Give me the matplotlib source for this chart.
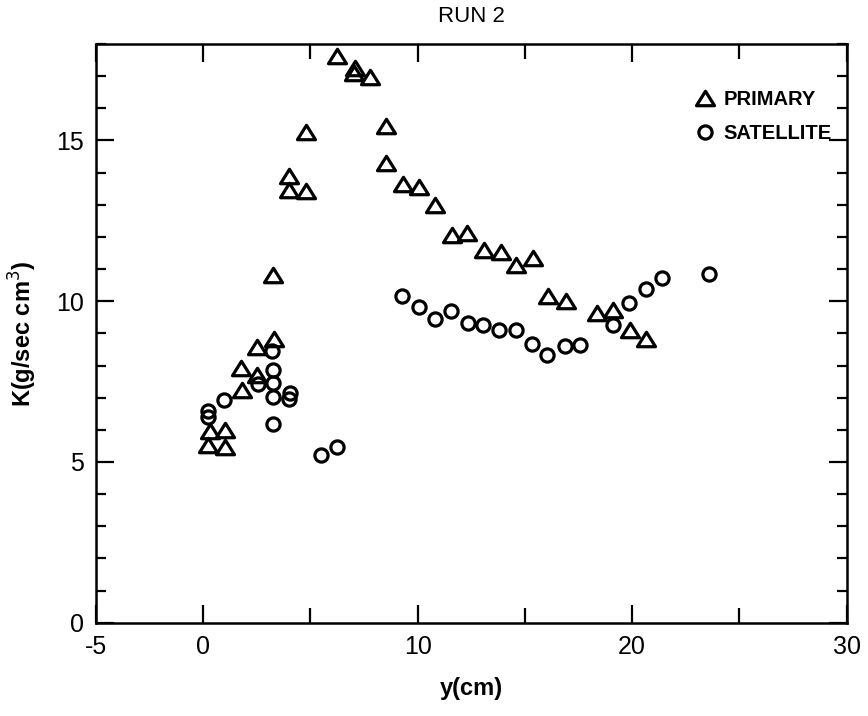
import matplotlib.pyplot as plt
import numpy as np
from matplotlib.path import Path
from matplotlib.ticker import MultipleLocator

# primary (triangles)
prim_y = [0.24, 0.31, 1.01, 1.01, 1.79, 1.76, 2.49, 2.49, 3.30, 3.27,
          4.01, 4.01, 4.79, 4.79, 6.25, 7.07, 7.02, 7.77, 8.52, 8.52,
          9.33, 10.07, 10.80, 11.58, 12.31, 13.09, 13.87, 14.58, 15.39, 16.09,
          16.90, 18.38, 19.12, 19.90, 20.64]
prim_k = [5.54, 5.95, 5.98, 5.46, 7.25, 7.93, 7.72, 8.58, 8.84, 10.83,
          13.89, 13.46, 13.43, 15.25, 17.63, 17.27, 17.11, 16.99, 15.45, 14.31,
          13.64, 13.56, 12.98, 12.05, 12.11, 11.59, 11.53, 11.14, 11.35, 10.16,
          10.00, 9.64, 9.72, 9.12, 8.81]

# satellite (circles)
sat_y = [0.24, 0.24, 0.98, 2.57, 3.22, 3.24, 3.27, 3.27, 3.27, 4.04,
         3.98, 5.49, 6.25, 9.28, 10.07, 10.80, 11.55, 12.33, 13.06, 13.80,
         14.56, 15.35, 16.05, 16.86, 17.59, 19.12, 19.85, 20.63, 21.40, 23.59]
sat_k = [6.57, 6.40, 6.92, 7.44, 8.44, 7.87, 7.46, 7.02, 6.18, 7.13,
         6.95, 5.22, 5.48, 10.16, 9.83, 9.45, 9.71, 9.33, 9.25, 9.10,
         9.09, 8.68, 8.34, 8.60, 8.65, 9.27, 9.95, 10.37, 10.73, 10.86]

plt.rcParams['font.family'] = ['Liberation Sans', 'DejaVu Sans']
plt.rcParams['axes.unicode_minus'] = False

# flattened triangle like the hand drawn one
tri = Path([(0, 0.8), (-1, -0.8), (1, -0.8), (0, 0.8)],
           [Path.MOVETO, Path.LINETO, Path.LINETO, Path.CLOSEPOLY])

fig = plt.figure(figsize=(8.68, 7.16), dpi=100)
ax = fig.add_axes([0.1106, 0.1303, 0.8648, 0.8082])

ax.plot(prim_y, prim_k, linestyle='none', marker=tri, ms=13, mfc='none',
        mec='black', mew=2.3, label='PRIMARY')
ax.plot(sat_y, sat_k, linestyle='none', marker='o', ms=9.5, mfc='none',
        mec='black', mew=2.3, label='SATELLITE')

ax.set_xlim(-5, 30)
ax.set_ylim(0, 18)
ax.set_xticks([-5, 0, 10, 20, 30])
ax.xaxis.set_minor_locator(MultipleLocator(5))
ax.yaxis.set_major_locator(MultipleLocator(5))
ax.yaxis.set_minor_locator(MultipleLocator(1))
ax.tick_params(which='both', direction='in', top=True, right=True, width=1.6,
               labelsize=18, pad=9)
ax.tick_params(which='major', length=13)
ax.tick_params(which='minor', length=7)
ax.tick_params(axis='x', which='minor', length=11)
for s in ax.spines.values():
    s.set_linewidth(1.8)

ax.set_title('RUN 2', fontsize=16, pad=16)
ax.set_xlabel('y(cm)', fontsize=17, fontweight='bold', labelpad=13)
ax.set_ylabel('K(g/sec cm$^3$)', fontsize=17, fontweight='bold', labelpad=12)

leg = ax.legend(loc='upper left', bbox_to_anchor=(0.784, 0.938), frameon=False,
                numpoints=1, handlelength=1.0, handletextpad=0.45,
                labelspacing=0.75, borderpad=0,
                prop={'size': 14.5, 'weight': 'bold'})

plt.savefig('out.png', dpi=100)
